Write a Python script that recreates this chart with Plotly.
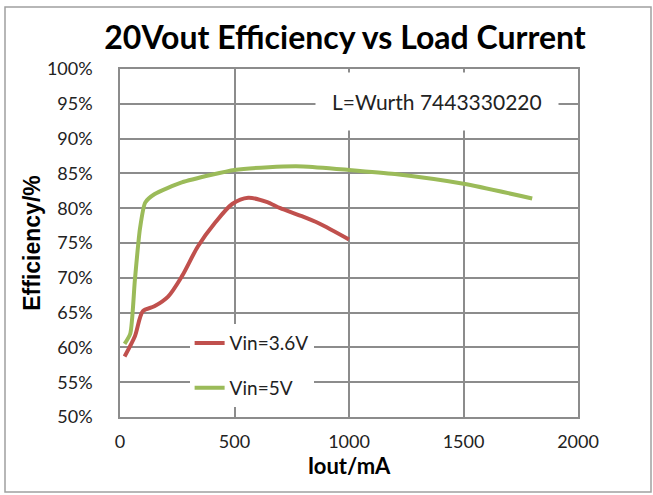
import plotly.graph_objects as go

# Data
x_36 = [20, 65, 100, 150, 210, 270, 340, 415, 490, 560, 640, 700, 790, 870, 1000]
y_36 = [58.7, 61.6, 65.2, 65.9, 67.3, 70.2, 74.5, 77.9, 80.6, 81.5, 80.9, 80.0, 78.9, 77.8, 75.5]

x_5 = [20, 45, 65, 87, 110, 150, 270, 400, 500, 650, 800, 1000, 1200, 1500, 1800]
y_5 = [60.5, 62.0, 69.7, 77.0, 80.8, 82.0, 83.7, 84.8, 85.5, 85.9, 86.0, 85.5, 84.9, 83.5, 81.4]

y_ticks = [50, 55, 60, 65, 70, 75, 80, 85, 90, 95, 100]
y_tick_labels = [f"{v}%" for v in y_ticks]
x_ticks = [0, 500, 1000, 1500, 2000]

FONT = "Lato"
GRID = "#8c8c8c"

fig = go.Figure()
fig.add_trace(go.Scatter(x=x_36, y=y_36, mode="lines", name="Vin=3.6V",
                         line=dict(color="#C0504D", width=4, shape="spline", smoothing=0.8),
                         legendgroup="a"))
fig.add_trace(go.Scatter(x=x_5, y=y_5, mode="lines", name="Vin=5V",
                         line=dict(color="#9BBB59", width=4, shape="spline", smoothing=0.6),
                         legendgroup="b"))

fig.update_layout(
    width=653, height=495,
    margin=dict(l=120, r=75, t=69, b=78),
    paper_bgcolor="white", plot_bgcolor="white",
    font=dict(family=FONT, size=18, color="#222"),
    title=dict(text="<b>20Vout Efficiency vs Load Current</b>",
               x=(345 / 653), xanchor="center", y=1 - 38 / 495, yanchor="middle",
               font=dict(family=FONT, size=32, color="black")),
    showlegend=True,
    legend=dict(x=0.152, y=0.267, xanchor="left", yanchor="top",
                bgcolor="white", borderwidth=0, tracegroupgap=17,
                font=dict(family=FONT, size=19, color="#222")),
    xaxis=dict(range=[0, 2000], tickvals=x_ticks, showgrid=True, gridcolor=GRID, gridwidth=1.5,
               showline=True, linecolor=GRID, linewidth=1.5, mirror=True,
               ticks="inside", ticklen=5, tickcolor=GRID, zeroline=False,
               ticklabelstandoff=8, tickfont=dict(size=18),
               title=dict(text="<b>Iout/mA</b>", font=dict(family=FONT, size=22, color="black"), standoff=2)),
    yaxis=dict(range=[50, 100], tickvals=y_ticks, ticktext=y_tick_labels, showgrid=True,
               gridcolor=GRID, gridwidth=1.5, showline=True, linecolor=GRID, linewidth=1.5,
               mirror=True, zeroline=False, ticklabelstandoff=22, tickfont=dict(size=18),
               title=dict(text="<b>Efficiency/%</b>",
                          font=dict(family="Liberation Sans", size=23, color="black"), standoff=0)),
    shapes=[dict(type="rect", xref="paper", yref="paper",
                 x0=(5 - 120) / 458, x1=(651 - 120) / 458,
                 y0=(417 - 492) / 348, y1=(417 - 7) / 348,
                 line=dict(color="#a0a0a0", width=1.5), fillcolor="rgba(0,0,0,0)", layer="below")],
    annotations=[dict(text="L=Wurth 7443330220", xref="paper", yref="paper",
                      x=(437 - 120) / 458, y=(417 - 101) / 348, xanchor="center", yanchor="middle",
                      showarrow=False, bgcolor="white", borderpad=16,
                      font=dict(family=FONT, size=21, color="#222"))],
)

fig.write_html("out.html", config={"displayModeBar": False},
               post_script="document.body.style.margin='0';")
